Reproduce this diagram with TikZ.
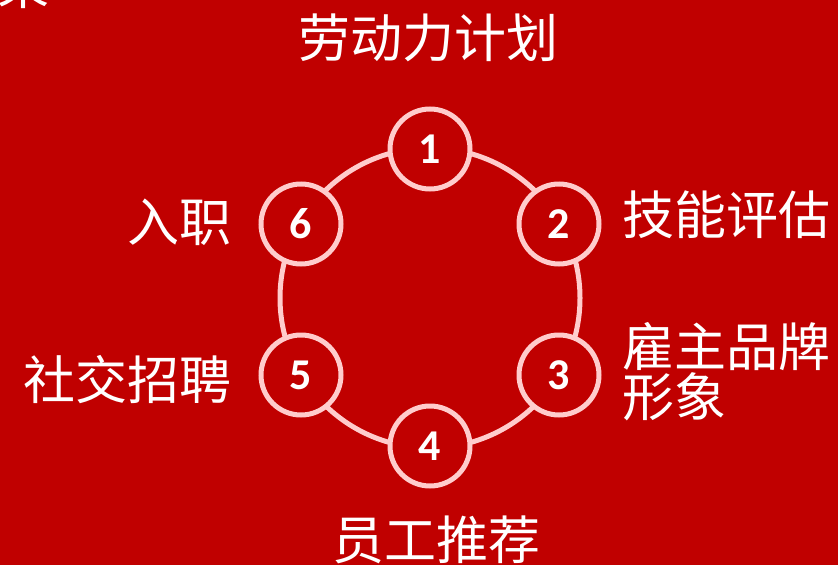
\documentclass[tikz,border=0pt]{standalone}
\usepackage{fontspec}
\setmainfont{Carlito}
\newfontfamily\cjk{Noto Sans CJK SC}
\definecolor{bgred}{RGB}{192,0,0}
\definecolor{ringpink}{RGB}{255,204,204}
\tikzset{
    stepcirc/.style={circle, draw=ringpink, line width=5pt, fill=bgred,
        minimum size=80pt, inner sep=0pt, text=white,
        font=\fontsize{44}{44}\selectfont\bfseries},
    steplabel/.style={text=white, inner sep=0pt,
        font=\cjk\fontsize{52}{56}\selectfont}
}
\begin{document}
\begin{tikzpicture}[x=1pt,y=-1pt]
    \useasboundingbox (0,0) rectangle (838,565);
    \clip (0,0) rectangle (838,565);
    \fill[bgred] (0,0) rectangle (838,565);

    % ring behind the steps
    \coordinate (mid) at (430,298);
    \draw[ringpink, line width=5pt] (mid) circle (150pt);

    % the six steps
    \node[stepcirc] (c1) at (430,149) {1};
    \node[stepcirc] (c2) at (559,224) {2};
    \node[stepcirc] (c3) at (559,375) {3};
    \node[stepcirc] (c4) at (430,446) {4};
    \node[stepcirc] (c5) at (301,375) {5};
    \node[stepcirc] (c6) at (301,224) {6};

    % labels
    \node[steplabel] (t0) at (24,-14) {果};
    \node[steplabel] (t1) at (428,38) {劳动力计划};
    \node[steplabel, anchor=west] (t2) at (622,215) {技能评估};
    \node[steplabel, anchor=west, align=left] (t3) at (622,372)
        {雇主品牌\\[-6pt]形象};
    \node[steplabel] (t4) at (436,540) {员工推荐};
    \node[steplabel, anchor=east] (t5) at (232,380) {社交招聘};
    \node[steplabel, anchor=east] (t6) at (232,222) {入职};
\end{tikzpicture}
\end{document}
